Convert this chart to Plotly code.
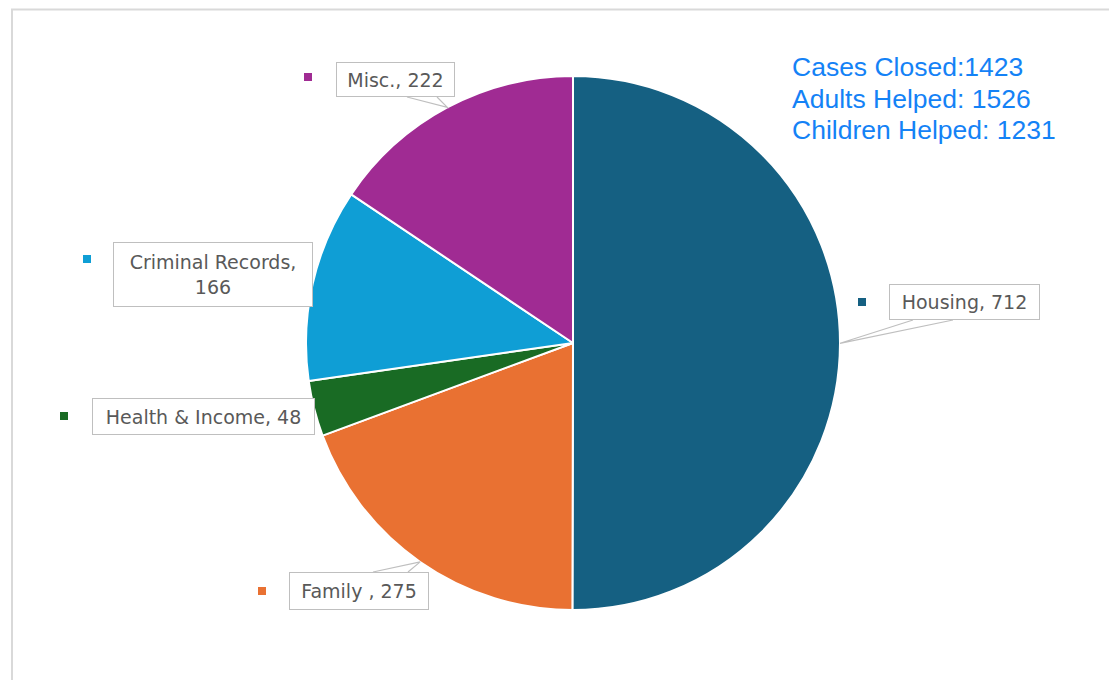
import math
import plotly.graph_objects as go

# ---- data ----
categories = ["Housing", "Family ", "Health & Income", "Criminal Records", "Misc."]
values = [712, 275, 48, 166, 222]
colors = ["#156082", "#E97132", "#196B24", "#0F9ED5", "#A02B93"]
summary_lines = ["Cases Closed:1423", "Adults Helped: 1526", "Children Helped: 1231"]

# ---- layout helpers (pixel space of the window) ----
W, H = 1117, 680
OFF = 8  # page body margin
CX, CY, R = 573, 343, 267

# label box centre/size, marker centre, line-break flag, callout base points
label_layout = {
    "Housing": dict(box=(964.5, 302, 151, 36), mark=(862, 302), wrap=False,
                    base=[(913, 320), (953, 320)]),
    "Family ": dict(box=(359, 591, 140, 38), mark=(262, 591), wrap=False,
                    base=[(373, 572), (408, 572)]),
    "Health & Income": dict(box=(203.5, 416.5, 223, 37), mark=(64, 416), wrap=False,
                            base=None),
    "Criminal Records": dict(box=(213, 274, 200, 65), mark=(87, 259), wrap=True,
                             base=None),
    "Misc.": dict(box=(395.5, 79.5, 119, 35), mark=(308, 77), wrap=False,
                  base=[(407, 97), (437, 97)]),
}

fig = go.Figure()
fig.add_trace(go.Pie(
    labels=categories, values=values, sort=False, direction="clockwise",
    rotation=0, marker=dict(colors=colors, line=dict(color="white", width=2)),
    textinfo="none", showlegend=False,
    domain=dict(x=[(CX - R - OFF) / W, (CX + R - OFF) / W],
                y=[1 - (CY + R - OFF) / H, 1 - (CY - R - OFF) / H]),
))

shapes = []
annotations = []

# frame
shapes.append(dict(type="rect", xref="x", yref="y", x0=12, y0=9.5, x1=W + 40, y1=H + 40,
                   line=dict(color="#d9d9d9", width=2), fillcolor="rgba(0,0,0,0)", layer="below"))

total = sum(values)
cum = 0
for cat, val, col in zip(categories, values, colors):
    mid = (cum + val / 2) / total
    cum += val
    ang = 2 * math.pi * mid
    tip = (CX + R * math.sin(ang), CY - R * math.cos(ang))
    lay = label_layout[cat]
    bx, by, bw, bh = lay["box"]
    sep = ",<br>" if lay["wrap"] else ", "
    annotations.append(dict(
        xref="x", yref="y", x=bx, y=by, text=f"{cat}{sep}{val}", showarrow=False,
        width=bw - 2, height=bh - 2, borderpad=0, bordercolor="#bfbfbf", borderwidth=1,
        bgcolor="white", align="center", valign="middle",
        font=dict(family="DejaVu Sans", size=19, color="#595959"),
    ))
    mx, my = lay["mark"]
    shapes.append(dict(type="rect", xref="x", yref="y", x0=mx - 4, x1=mx + 4, y0=my - 4, y1=my + 4,
                       fillcolor=col, line=dict(width=0)))
    if lay["base"]:
        (ax, ay), (bx2, by2) = lay["base"]
        shapes.append(dict(type="path", xref="x", yref="y",
                           path=f"M {ax},{ay} L {tip[0]:.1f},{tip[1]:.1f} L {bx2},{by2}",
                           line=dict(color="#bfbfbf", width=1.2), fillcolor="white"))

for i, line in enumerate(summary_lines):
    annotations.append(dict(
        xref="x", yref="y", x=790, y=67 + 31.5 * i, text=line, showarrow=False,
        xanchor="left", yanchor="middle",
        font=dict(family="Liberation Sans, Arial", size=26.5, color="#1482F6"),
    ))

fig.update_layout(
    width=W, height=H, margin=dict(l=0, r=0, t=0, b=0),
    paper_bgcolor="white", plot_bgcolor="rgba(0,0,0,0)",
    xaxis=dict(range=[OFF, W + OFF], visible=False, fixedrange=True),
    yaxis=dict(range=[H + OFF, OFF], visible=False, fixedrange=True),
    shapes=shapes, annotations=annotations, showlegend=False,
)

fig.write_html("out.html")
